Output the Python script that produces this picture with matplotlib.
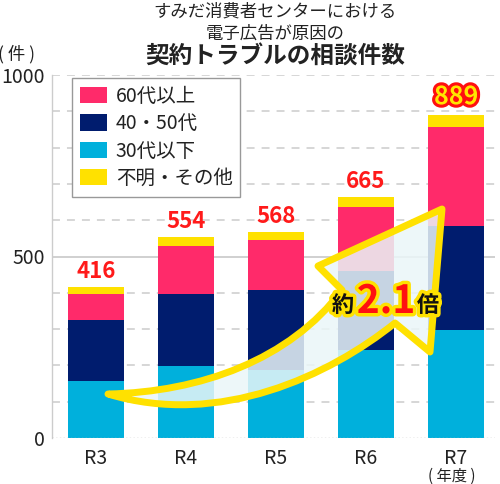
import matplotlib
matplotlib.use('Agg')
import matplotlib.pyplot as plt
import numpy as np
from matplotlib.patches import Patch, PathPatch
from matplotlib.path import Path
import matplotlib.patheffects as pe

plt.rcParams['font.family'] = ['Noto Sans CJK JP', 'DejaVu Sans']

# ---- data ----
categories = ['R3', 'R4', 'R5', 'R6', 'R7']
totals = [416, 554, 568, 665, 889]
age_30_under = [157, 199, 187, 242, 297]
age_40_50 = [168, 197, 221, 219, 288]
age_60_over = [71, 134, 137, 176, 273]
unknown_other = [20, 24, 23, 28, 31]
series_labels = ['30代以下', '40・50代', '60代以上', '不明・その他']
legend_order = ['60代以上', '40・50代', '30代以下', '不明・その他']
y_ticks = [0, 500, 1000]

colors = {'30代以下': '#00b0dc', '40・50代': '#001c6e',
          '60代以上': '#ff2a6a', '不明・その他': '#ffe100'}
RED = '#ff1a1a'
TXT = '#222222'

W, H = 500, 484
fig = plt.figure(figsize=(W / 100, H / 100), dpi=100)
AX_L, AX_R, AX_B, AX_T = 52, 495, 438, 75
ax = fig.add_axes([AX_L / W, (H - AX_B) / H, (AX_R - AX_L) / W, (AX_B - AX_T) / H])

x = np.arange(len(categories))
bw = 0.63
bottom = np.zeros(len(categories))
for lab, vals in zip(series_labels, [age_30_under, age_40_50, age_60_over, unknown_other]):
    ax.bar(x, vals, bw, bottom=bottom, color=colors[lab], zorder=3, linewidth=0)
    bottom += np.array(vals)

ax.set_xlim(-0.489, 4.433)
ax.set_ylim(0, 1000)

# grid
for g in np.arange(100, 1001, 100):
    if g == 500:
        ax.axhline(g, color='#c4c4c4', lw=1.1, zorder=1)
    else:
        ax.axhline(g, color='#cccccc', lw=1.1, dashes=(5.2, 4.6), zorder=1)
ax.axhline(0, color='#b0b0b0', lw=1.0, ls=':', zorder=4)

for s in ['top', 'right', 'bottom']:
    ax.spines[s].set_visible(False)
ax.spines['left'].set_color('#cccccc')
ax.spines['left'].set_linewidth(1.0)

ax.set_yticks(y_ticks)
ax.set_yticklabels([str(v) for v in y_ticks])
ax.set_xticks(x)
ax.set_xticklabels(categories)
ax.tick_params(axis='y', length=0, labelsize=14, pad=5, colors=TXT)
ax.tick_params(axis='x', length=0, labelsize=14, pad=7, colors=TXT)

# value labels
for xi, t in zip(x, totals):
    if xi == len(totals) - 1:
        ax.annotate(str(t), (xi, t), xytext=(0, 13), textcoords='offset points',
                    ha='center', va='center', color='#ffe600', fontsize=18,
                    fontweight='bold', zorder=7,
                    path_effects=[pe.withStroke(linewidth=4.5, foreground='#ff1010')])
    else:
        ax.annotate(str(t), (xi, t), xytext=(0, 11), textcoords='offset points',
                    ha='center', va='center', color=RED, fontsize=16,
                    fontweight='bold', zorder=7)

# legend
handles = [Patch(facecolor=colors[l], edgecolor='none') for l in legend_order]
leg = fig.legend(handles, legend_order, loc='upper left',
                 bbox_to_anchor=(72 / W, 1 - 78 / H), borderaxespad=0,
                 fontsize=14, frameon=True, fancybox=False, framealpha=1,
                 edgecolor='#999999', handlelength=1.4, handleheight=0.9,
                 handletextpad=0.45, labelspacing=0.33, borderpad=0.4)
leg.get_frame().set_linewidth(1.0)
for t in leg.get_texts():
    t.set_color(TXT)

# helper: pixel -> axes fraction (for decoration)
def pa(p):
    return ((p[0] - AX_L) / (AX_R - AX_L), (AX_B - p[1]) / (AX_B - AX_T))

T = (108, 394)
NL = (342, 290)
LB = (318, 266)
A = (442, 209)
RB = (430, 352)
NR = (395, 323)
verts_px = [T, (200, 392), (290, 360), NL, LB, A, RB, NR,
            (330, 375), (220, 428), T, T]
codes = [Path.MOVETO, Path.CURVE4, Path.CURVE4, Path.CURVE4,
         Path.LINETO, Path.LINETO, Path.LINETO, Path.LINETO,
         Path.CURVE4, Path.CURVE4, Path.CURVE4, Path.CLOSEPOLY]
arrow = PathPatch(Path([pa(v) for v in verts_px], codes),
                  facecolor=(234 / 255, 246 / 255, 248 / 255, 0.85),
                  edgecolor='#ffe100', lw=5, joinstyle='round',
                  transform=ax.transAxes, zorder=5, clip_on=False)
ax.add_patch(arrow)

stroke = [pe.withStroke(linewidth=5, foreground='#ffe100')]
ax.text(*pa((343, 312)), '約', transform=ax.transAxes, ha='center', va='baseline',
        fontsize=16, fontweight='bold', color='#111111', zorder=6, path_effects=stroke)
ax.text(*pa((386, 313)), '2.1', transform=ax.transAxes, ha='center', va='baseline',
        fontsize=28, fontweight='bold', color='#ff1010', zorder=6, path_effects=stroke)
ax.text(*pa((428, 312)), '倍', transform=ax.transAxes, ha='center', va='baseline',
        fontsize=16, fontweight='bold', color='#111111', zorder=6, path_effects=stroke)

# titles and axis notes
fig.text(275 / W, 1 - 12 / H, 'すみだ消費者センターにおける', ha='center', va='center',
         fontsize=12.5, color=TXT)
fig.text(275 / W, 1 - 34 / H, '電子広告が原因の', ha='center', va='center',
         fontsize=12.5, color=TXT)
fig.text(275 / W, 1 - 57 / H, '契約トラブルの相談件数', ha='center', va='center',
         fontsize=17, fontweight='bold', color=TXT)
fig.text(17 / W, 1 - 54 / H, '( 件 )', ha='center', va='center', fontsize=12.5, color=TXT)
fig.text(452 / W, 1 - 476 / H, '( 年度 )', ha='center', va='center', fontsize=11, color=TXT)

fig.savefig('out.png', dpi=100)
